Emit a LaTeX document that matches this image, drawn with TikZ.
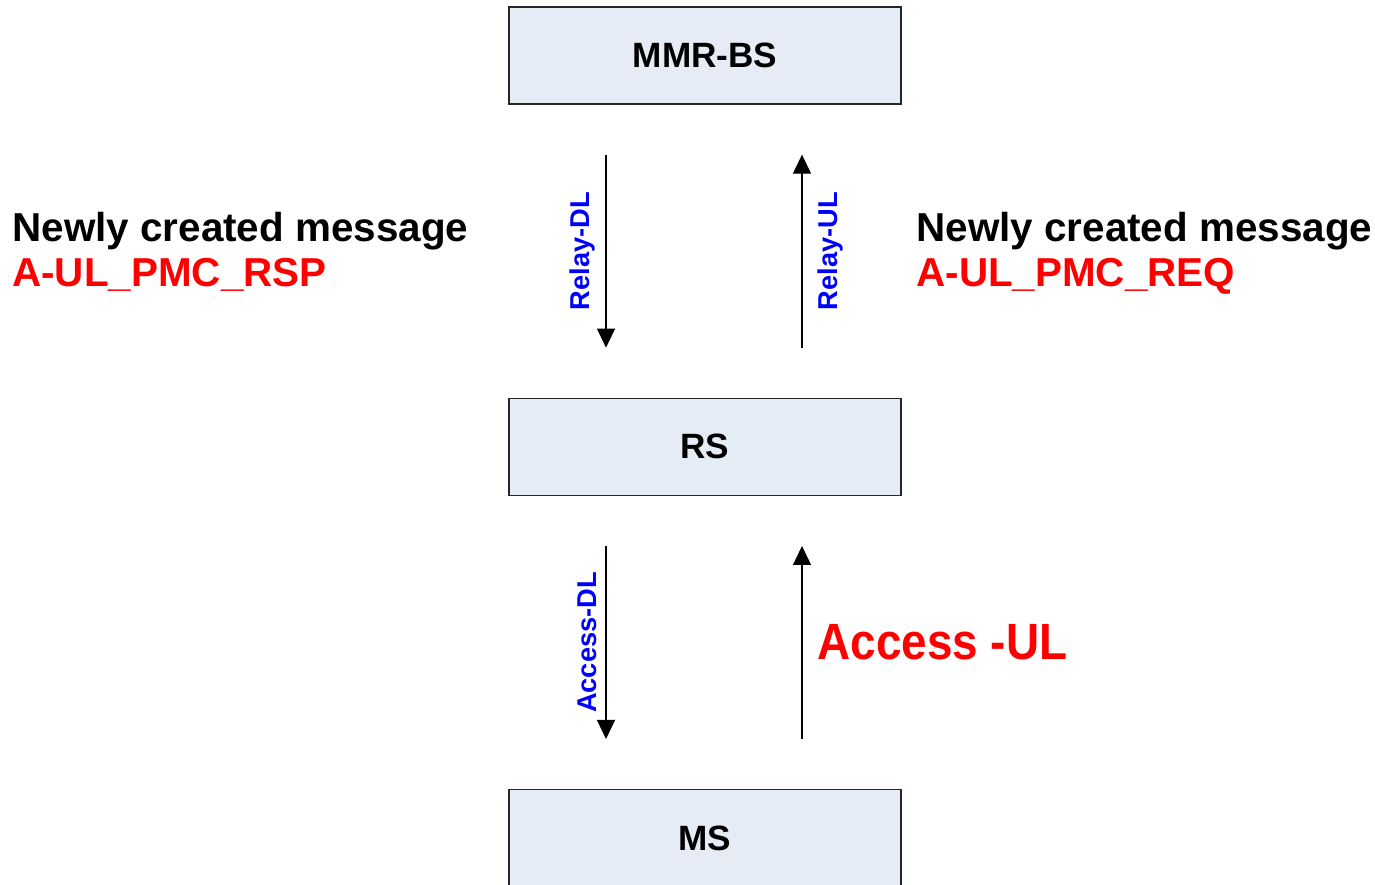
\documentclass[tikz,border=0pt]{standalone}
\usepackage{fontspec}
\setmainfont{Liberation Sans}
\newfontfamily\narrowfont{Liberation Sans}[FakeStretch=0.9]
\usetikzlibrary{arrows.meta, positioning}
\definecolor{boxfill}{RGB}{230,236,246}

\begin{document}
\begin{tikzpicture}[
    station/.style={draw=black!85, fill=boxfill, line width=0.75pt,
        minimum width=7.84cm, minimum height=1.94cm,
        font=\fontsize{20}{22}\selectfont\bfseries},
    msg/.style={line width=0.7pt, -{Triangle[length=0.38cm, width=0.36cm]},
        shorten <=1cm, shorten >=1cm},
    link/.style={blue, rotate=90, inner sep=0.2cm,
        font=\fontsize{15.5}{17}\selectfont\bfseries},
    note/.style={anchor=north west, align=left, inner sep=0pt,
        font=\fontsize{23}{25.5}\selectfont\bfseries}
]
    \useasboundingbox (0,0) rectangle (27.5,-17.7);

    % Stations
    \node[station] (mmr) at (14.1,-1.11) {MMR-BS};
    \node[station, below=5.86cm of mmr] (rs) {RS};
    \node[station, below=5.86cm of rs] (ms) {MS};

    % Relay links
    \draw[msg] ([xshift=-1.98cm]mmr.south) -- ([xshift=-1.98cm]rs.north)
        node[midway, link, anchor=south] {Relay-DL};
    \draw[msg] ([xshift=1.94cm]rs.north) -- ([xshift=1.94cm]mmr.south)
        node[midway, link, anchor=north, inner sep=0.3cm] {Relay-UL};

    % Access links
    \draw[msg] ([xshift=-1.98cm]rs.south) -- ([xshift=-1.98cm]ms.north)
        node[midway, link, anchor=south, inner sep=0.18cm] {Access-DL};
    \draw[msg] ([xshift=1.94cm]ms.north) -- ([xshift=1.94cm]rs.south)
        node[midway, anchor=west, inner sep=0.3cm, red,
            font=\narrowfont\fontsize{29}{31}\selectfont\bfseries] (ul) {Access -UL};

    % New messages
    \node[note] (rsp) at (0.24,-4.24)
        {Newly created message\\ \textcolor{red}{A-UL\_PMC\_RSP}};
    \node[note] (req) at (18.32,-4.24)
        {Newly created message\\ \textcolor{red}{A-UL\_PMC\_REQ}};
\end{tikzpicture}
\end{document}
